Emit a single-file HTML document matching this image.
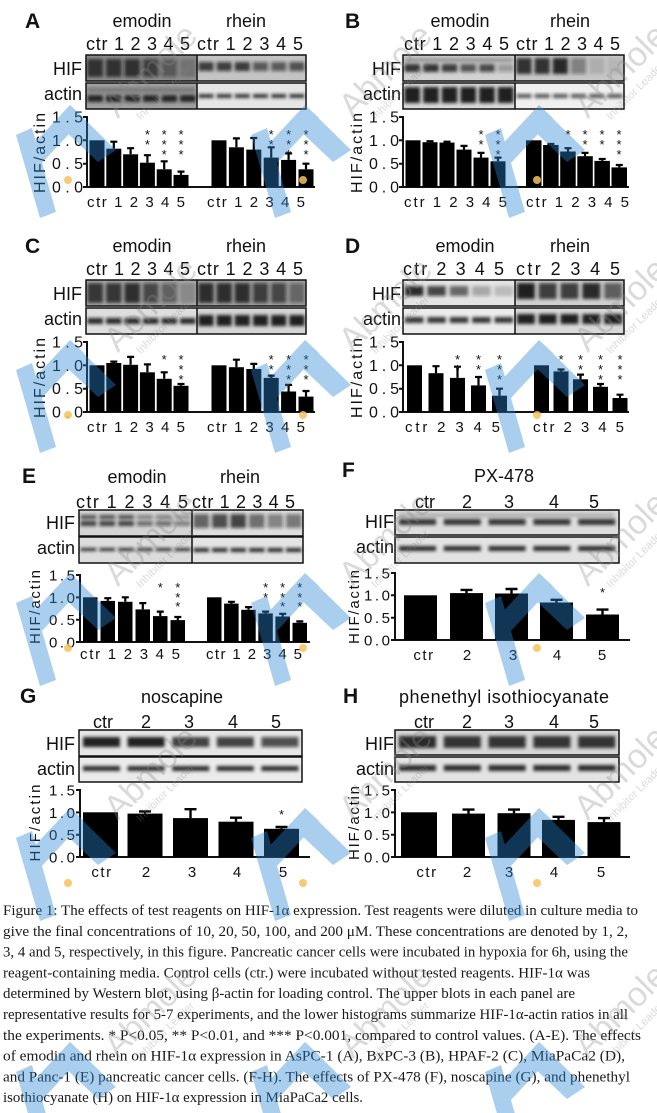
<!DOCTYPE html>
<html><head><meta charset="utf-8">
<style>
html,body{margin:0;padding:0;background:#fff;}
svg{display:block;}
text{font-family:"Liberation Sans",Arial,sans-serif;fill:#111;}
.cap{font-family:"Liberation Serif","Times New Roman",serif;font-size:15px;fill:#1a1a1a;}
.L{font-weight:bold;font-size:21px;}
.t{font-size:18px;}
.tk{font-size:16px;}
.tk2{font-size:15px;}
.st{font-size:13px;}
.wm text{fill:#8a8a8a;}
</style></head><body>
<svg width="657" height="1113" viewBox="0 0 657 1113" xmlns="http://www.w3.org/2000/svg">
<defs>
<filter id="bl" x="-20%" y="-60%" width="140%" height="220%"><feGaussianBlur stdDeviation="1.5"/></filter>
<g id="logo">
<polygon points="-52,-45 -36,-52 -12,32 -28,38"/>
<polygon points="-42,-28 2,-75 16,-62 -28,-15"/>
<polygon points="2,-75 48,-30 30,-18 -6,-52"/>
</g>
</defs>
<rect width="657" height="1113" fill="#fff"/>

<!-- ================= PANEL A ================= -->
<text class="L" x="25" y="28">A</text>
<text class="t" x="142" y="27" text-anchor="middle">emodin</text>
<text class="t" x="246" y="27" text-anchor="middle">rhein</text>
<text class="t" x="86" y="50" textLength="104">ctr 1 2 3 4 5</text>
<text class="t" x="197" y="50" textLength="106">ctr 1 2 3 4 5</text>
<text class="t" x="82" y="75" text-anchor="end">HIF</text>
<text class="t" x="82" y="100" text-anchor="end">actin</text>
<rect x="86" y="55" width="111" height="26" fill="#8e8e8e"/>
<rect x="197" y="55" width="109" height="26" fill="#c4c4c4"/>
<rect x="86" y="83" width="111" height="26" fill="#a0a0a0"/>
<rect x="197" y="83" width="109" height="26" fill="#e6e6e6"/>
<g filter="url(#bl)" fill="#151515">
<rect x="87.5" y="59" width="15.5" height="18" opacity=".8"/><rect x="106" y="59" width="15.5" height="18" opacity=".8"/><rect x="124.5" y="59" width="15.5" height="18" opacity=".75"/><rect x="143" y="59" width="15.5" height="18" opacity=".65"/><rect x="161.5" y="59" width="15.5" height="18" opacity=".45"/><rect x="180" y="59" width="15.5" height="18" opacity=".2"/>
<rect x="198.5" y="62" width="15" height="9" opacity=".75"/><rect x="216.7" y="62" width="15" height="9" opacity=".75"/><rect x="234.8" y="62" width="15" height="9" opacity=".8"/><rect x="253" y="62" width="15" height="9" opacity=".6"/><rect x="271.2" y="62" width="15" height="9" opacity=".6"/><rect x="289.4" y="62" width="15" height="9" opacity=".65"/>
<rect x="87.5" y="95" width="15.5" height="7" opacity=".9"/><rect x="106" y="95" width="15.5" height="7" opacity=".9"/><rect x="124.5" y="95" width="15.5" height="7" opacity=".9"/><rect x="143" y="95" width="15.5" height="7" opacity=".9"/><rect x="161.5" y="95" width="15.5" height="7" opacity=".9"/><rect x="180" y="95" width="15.5" height="7" opacity=".9"/>
<rect x="87.5" y="88" width="108" height="4" opacity=".35"/>
<rect x="198.5" y="94" width="15" height="4" opacity=".85"/><rect x="216.7" y="94" width="15" height="4" opacity=".85"/><rect x="234.8" y="94" width="15" height="4" opacity=".85"/><rect x="253" y="94" width="15" height="4" opacity=".85"/><rect x="271.2" y="94" width="15" height="4" opacity=".85"/><rect x="289.4" y="94" width="15" height="4" opacity=".85"/>
</g>
<g fill="none" stroke="#111" stroke-width="1.5">
<rect x="86" y="55" width="220" height="26"/><line x1="197" y1="55" x2="197" y2="81"/>
<rect x="86" y="83" width="220" height="26"/><line x1="197" y1="83" x2="197" y2="109"/>
</g>
<text class="tk" transform="translate(45,153) rotate(-90)" text-anchor="middle" textLength="80">HIF/actin</text>
<text class="tk" x="83" y="122.5" text-anchor="end" textLength="31">1.5</text>
<text class="tk" x="83" y="145.8" text-anchor="end" textLength="31">1.0</text>
<text class="tk" x="83" y="169.2" text-anchor="end" textLength="31">0.5</text>
<text class="tk" x="83" y="192.5" text-anchor="end" textLength="31">0.0</text>
<path d="M87 116V187H315M83 117H87M83 140.3H87M83 163.7H87M83 187H87" fill="none" stroke="#111" stroke-width="2"/>
<g fill="#000">
<rect x="89.5" y="140.3" width="15" height="46.7"/><rect x="106.3" y="148.7" width="15" height="38.3"/><rect x="123.1" y="154.3" width="15" height="32.7"/><rect x="139.9" y="162.7" width="15" height="24.3"/><rect x="156.7" y="169.3" width="15" height="17.7"/><rect x="173.5" y="174.9" width="15" height="12.1"/>
<rect x="211.5" y="140.3" width="15" height="46.7"/><rect x="228.9" y="147.3" width="15" height="39.7"/><rect x="246.3" y="149.6" width="15" height="37.4"/><rect x="263.7" y="157.6" width="15" height="29.4"/><rect x="281.1" y="159.9" width="15" height="27.1"/><rect x="298.5" y="169.3" width="15" height="17.7"/>
</g>
<path d="M113.8 148.7V141.7M110.3 141.7H117.3M130.6 154.3V148.2M127.1 148.2H134.1M147.4 162.7V155.2M143.9 155.2H150.9M164.2 169.3V161.3M160.7 161.3H167.7M181 174.9V171.6M177.5 171.6H184.5M236.4 147.3V138.4M232.9 138.4H239.9M253.8 149.6V138M250.3 138H257.3M271.2 157.6V147.3M267.7 147.3H274.7M288.6 159.9V153.4M285.1 153.4H292.1M306 169.3V163.7M302.5 163.7H309.5" fill="none" stroke="#000" stroke-width="2.2"/>
<g class="st" text-anchor="middle">
<text x="147.4" y="139">*</text><text x="147.4" y="149">*</text>
<text x="164.2" y="139">*</text><text x="164.2" y="149">*</text><text x="164.2" y="159">*</text>
<text x="181" y="139">*</text><text x="181" y="149">*</text><text x="181" y="159">*</text>
<text x="271.2" y="139">*</text><text x="271.2" y="149">*</text>
<text x="288.6" y="139">*</text><text x="288.6" y="149">*</text><text x="288.6" y="159">*</text>
<text x="306" y="139">*</text><text x="306" y="149">*</text><text x="306" y="159">*</text>
</g>
<text class="tk2" x="87" y="207" textLength="98">ctr 1 2 3 4 5</text>
<text class="tk2" x="207" y="207" textLength="98">ctr 1 2 3 4 5</text>

<!-- ================= PANEL B ================= -->
<text class="L" x="345" y="28">B</text>
<text class="t" x="460" y="27" text-anchor="middle">emodin</text>
<text class="t" x="570" y="27" text-anchor="middle">rhein</text>
<text class="t" x="404" y="50" textLength="105">ctr 1 2 3 4 5</text>
<text class="t" x="516" y="50" textLength="104">ctr 1 2 3 4 5</text>
<text class="t" x="401" y="75" text-anchor="end">HIF</text>
<text class="t" x="401" y="100" text-anchor="end">actin</text>
<rect x="403" y="55" width="112" height="26" fill="#d2d2d2"/>
<rect x="515" y="55" width="109" height="26" fill="#c6c6c6"/>
<rect x="403" y="83" width="112" height="26" fill="#d8d8d8"/>
<rect x="515" y="83" width="109" height="26" fill="#f0f0f0"/>
<g filter="url(#bl)" fill="#151515">
<rect x="404.5" y="58" width="108" height="4" opacity=".35"/>
<rect x="404.5" y="64" width="15.5" height="8" opacity=".85"/><rect x="423.2" y="64" width="15.5" height="8" opacity=".85"/><rect x="441.8" y="64" width="15.5" height="8" opacity=".8"/><rect x="460.5" y="64" width="15.5" height="8" opacity=".65"/><rect x="479.2" y="64" width="15.5" height="8" opacity=".7"/><rect x="497.8" y="64" width="15.5" height="8" opacity=".3"/>
<rect x="516.5" y="58" width="15" height="16" opacity=".85"/><rect x="534.7" y="58" width="15" height="16" opacity=".85"/><rect x="552.8" y="58" width="15" height="16" opacity=".9"/><rect x="571" y="58" width="15" height="16" opacity=".4"/><rect x="589.2" y="58" width="15" height="16" opacity=".12"/><rect x="607.4" y="58" width="15" height="16" opacity=".08"/>
<rect x="404.5" y="87" width="15.5" height="16" opacity=".95"/><rect x="423.2" y="87" width="15.5" height="16" opacity=".95"/><rect x="441.8" y="87" width="15.5" height="16" opacity=".95"/><rect x="460.5" y="87" width="15.5" height="16" opacity=".95"/><rect x="479.2" y="87" width="15.5" height="16" opacity=".95"/><rect x="497.8" y="87" width="15.5" height="16" opacity=".95"/>
<rect x="516.5" y="94" width="15" height="4" opacity=".7"/><rect x="534.7" y="94" width="15" height="4" opacity=".7"/><rect x="552.8" y="94" width="15" height="4" opacity=".7"/><rect x="571" y="94" width="15" height="4" opacity=".7"/><rect x="589.2" y="94" width="15" height="4" opacity=".7"/><rect x="607.4" y="94" width="15" height="4" opacity=".7"/>
</g>
<g fill="none" stroke="#111" stroke-width="1.5">
<rect x="403" y="55" width="221" height="26"/><line x1="515" y1="55" x2="515" y2="81"/>
<rect x="403" y="83" width="221" height="26"/><line x1="515" y1="83" x2="515" y2="109"/>
</g>
<text class="tk" transform="translate(362,153) rotate(-90)" text-anchor="middle" textLength="80">HIF/actin</text>
<text class="tk" x="399" y="122.5" text-anchor="end" textLength="30">1.5</text>
<text class="tk" x="399" y="145.8" text-anchor="end" textLength="30">1.0</text>
<text class="tk" x="399" y="169.2" text-anchor="end" textLength="30">0.5</text>
<text class="tk" x="399" y="192.5" text-anchor="end" textLength="30">0.0</text>
<path d="M403 116V187H629M399 117H403M399 140.3H403M399 163.7H403M399 187H403" fill="none" stroke="#111" stroke-width="2"/>
<g fill="#000">
<rect x="405.5" y="140.3" width="15" height="46.7"/><rect x="422.5" y="142.2" width="15" height="44.8"/><rect x="439.5" y="142.6" width="15" height="44.4"/><rect x="456.5" y="149.6" width="15" height="37.4"/><rect x="473.5" y="157.6" width="15" height="29.4"/><rect x="490.5" y="161.3" width="15" height="25.7"/>
<rect x="526" y="140.3" width="15.5" height="46.7"/><rect x="543.1" y="145" width="15.5" height="42"/><rect x="560.2" y="151.5" width="15.5" height="35.5"/><rect x="577.3" y="156.2" width="15.5" height="30.8"/><rect x="594.4" y="160.9" width="15.5" height="26.1"/><rect x="611.5" y="167.4" width="15.5" height="19.6"/>
</g>
<path d="M430 142.2V141.2M426.5 141.2H433.5M447 142.6V141.7M443.5 141.7H450.5M464 149.6V145.9M460.5 145.9H467.5M481 157.6V152.9M477.5 152.9H484.5M498 161.3V157.6M494.5 157.6H501.5M550.9 145V144M547.4 144H554.4M568 151.5V148.2M564.5 148.2H571.5M585 156.2V152.9M581.5 152.9H588.5M602.2 160.9V159M598.7 159H605.7M619.3 167.4V165M615.8 165H622.8" fill="none" stroke="#000" stroke-width="2.2"/>
<g class="st" text-anchor="middle">
<text x="481" y="139">*</text><text x="481" y="149">*</text>
<text x="498" y="139">*</text><text x="498" y="149">*</text><text x="498" y="159">*</text>
<text x="568" y="139">*</text>
<text x="585" y="139">*</text><text x="585" y="149">*</text>
<text x="602" y="139">*</text><text x="602" y="149">*</text>
<text x="619" y="139">*</text><text x="619" y="149">*</text><text x="619" y="159">*</text>
</g>
<text class="tk2" x="404" y="207" textLength="103">ctr 1 2 3 4 5</text>
<text class="tk2" x="526" y="207" textLength="103">ctr 1 2 3 4 5</text>

<!-- ================= PANEL C ================= -->
<text class="L" x="25" y="253">C</text>
<text class="t" x="142" y="252" text-anchor="middle">emodin</text>
<text class="t" x="246" y="252" text-anchor="middle">rhein</text>
<text class="t" x="86" y="275" textLength="104">ctr 1 2 3 4 5</text>
<text class="t" x="197" y="275" textLength="106">ctr 1 2 3 4 5</text>
<text class="t" x="82" y="300" text-anchor="end">HIF</text>
<text class="t" x="82" y="325" text-anchor="end">actin</text>
<rect x="86" y="280" width="111" height="26" fill="#ababab"/>
<rect x="197" y="280" width="109" height="26" fill="#a6a6a6"/>
<rect x="86" y="308" width="111" height="26" fill="#dedede"/>
<rect x="197" y="308" width="109" height="26" fill="#d4d4d4"/>
<g filter="url(#bl)" fill="#151515">
<rect x="87.5" y="283" width="15.5" height="20" opacity=".8"/><rect x="106" y="283" width="15.5" height="20" opacity=".8"/><rect x="124.5" y="283" width="15.5" height="20" opacity=".85"/><rect x="143" y="283" width="15.5" height="20" opacity=".65"/><rect x="161.5" y="283" width="15.5" height="20" opacity=".5"/><rect x="180" y="283" width="15.5" height="20" opacity=".2"/>
<rect x="198.5" y="283" width="15" height="20" opacity=".85"/><rect x="216.7" y="283" width="15" height="20" opacity=".85"/><rect x="234.8" y="283" width="15" height="20" opacity=".85"/><rect x="253" y="283" width="15" height="20" opacity=".7"/><rect x="271.2" y="283" width="15" height="20" opacity=".65"/><rect x="289.4" y="283" width="15" height="20" opacity=".45"/>
<rect x="87.5" y="318" width="15.5" height="6" opacity=".9"/><rect x="106" y="318" width="15.5" height="6" opacity=".9"/><rect x="124.5" y="318" width="15.5" height="6" opacity=".9"/><rect x="143" y="318" width="15.5" height="6" opacity=".9"/><rect x="161.5" y="318" width="15.5" height="6" opacity=".9"/><rect x="180" y="318" width="15.5" height="6" opacity=".9"/>
<rect x="198.5" y="315" width="15" height="11" opacity=".95"/><rect x="216.7" y="315" width="15" height="11" opacity=".95"/><rect x="234.8" y="315" width="15" height="11" opacity=".95"/><rect x="253" y="315" width="15" height="11" opacity=".95"/><rect x="271.2" y="315" width="15" height="11" opacity=".95"/><rect x="289.4" y="315" width="15" height="11" opacity=".95"/>
</g>
<g fill="none" stroke="#111" stroke-width="1.5">
<rect x="86" y="280" width="220" height="26"/><line x1="197" y1="280" x2="197" y2="306"/>
<rect x="86" y="308" width="220" height="26"/><line x1="197" y1="308" x2="197" y2="334"/>
</g>
<text class="tk" transform="translate(45,378) rotate(-90)" text-anchor="middle" textLength="80">HIF/actin</text>
<text class="tk" x="83" y="347.5" text-anchor="end" textLength="31">1.5</text>
<text class="tk" x="83" y="370.8" text-anchor="end" textLength="31">1.0</text>
<text class="tk" x="83" y="394.2" text-anchor="end" textLength="31">0.5</text>
<text class="tk" x="83" y="417.5" text-anchor="end" textLength="31">0.0</text>
<path d="M87 341V412H315M83 342H87M83 365.3H87M83 388.7H87M83 412H87" fill="none" stroke="#111" stroke-width="2"/>
<g fill="#000">
<rect x="89.5" y="365.3" width="15" height="46.7"/><rect x="106.3" y="363" width="15" height="49"/><rect x="123.1" y="364.8" width="15" height="47.2"/><rect x="139.9" y="372.3" width="15" height="39.7"/><rect x="156.7" y="378.8" width="15" height="33.2"/><rect x="173.5" y="385.8" width="15" height="26.2"/>
<rect x="211.5" y="365.3" width="15" height="46.7"/><rect x="228.9" y="367.2" width="15" height="44.8"/><rect x="246.3" y="369" width="15" height="43"/><rect x="263.7" y="377.9" width="15" height="34.1"/><rect x="281.1" y="391.5" width="15" height="20.5"/><rect x="298.5" y="396.6" width="15" height="15.4"/>
</g>
<path d="M113.8 363V361.6M110.3 361.6H117.3M130.6 364.8V356.9M127.1 356.9H134.1M147.4 372.3V364.4M143.9 364.4H150.9M164.2 378.8V372.3M160.7 372.3H167.7M181 385.8V384M177.5 384H184.5M236.4 367.2V359.7M232.9 359.7H239.9M253.8 369V363.9M250.3 363.9H257.3M271.2 377.9V375.6M267.7 375.6H274.7M288.6 391.5V384.9M285.1 384.9H292.1M306 396.6V391M302.5 391H309.5" fill="none" stroke="#000" stroke-width="2.2"/>
<g class="st" text-anchor="middle">
<text x="164.2" y="364">*</text>
<text x="181" y="364">*</text><text x="181" y="374">*</text><text x="181" y="384">*</text>
<text x="271.2" y="364">*</text><text x="271.2" y="374">*</text><text x="271.2" y="384">*</text>
<text x="288.6" y="364">*</text><text x="288.6" y="374">*</text><text x="288.6" y="384">*</text>
<text x="306" y="364">*</text><text x="306" y="374">*</text><text x="306" y="384">*</text>
</g>
<text class="tk2" x="87" y="432" textLength="98">ctr 1 2 3 4 5</text>
<text class="tk2" x="207" y="432" textLength="98">ctr 1 2 3 4 5</text>

<!-- ================= PANEL D ================= -->
<text class="L" x="345" y="253">D</text>
<text class="t" x="465" y="252" text-anchor="middle">emodin</text>
<text class="t" x="570" y="252" text-anchor="middle">rhein</text>
<text class="t" x="403" y="275" textLength="101">ctr 2 3 4 5</text>
<text class="t" x="516" y="275" textLength="104">ctr 2 3 4 5</text>
<text class="t" x="401" y="300" text-anchor="end">HIF</text>
<text class="t" x="401" y="325" text-anchor="end">actin</text>
<rect x="403" y="280" width="112" height="26" fill="#e4e4e4"/>
<rect x="515" y="280" width="109" height="26" fill="#cfcfcf"/>
<rect x="403" y="308" width="112" height="26" fill="#ececec"/>
<rect x="515" y="308" width="109" height="26" fill="#d8d8d8"/>
<g filter="url(#bl)" fill="#151515">
<rect x="405" y="286" width="18.4" height="10" opacity=".9"/><rect x="427.4" y="286" width="18.4" height="10" opacity=".75"/><rect x="449.8" y="286" width="18.4" height="10" opacity=".6"/><rect x="472.2" y="286" width="18.4" height="10" opacity=".3"/><rect x="494.6" y="286" width="18.4" height="10" opacity=".18"/>
<rect x="517" y="283" width="17.8" height="16" opacity=".95"/><rect x="538.8" y="283" width="17.8" height="16" opacity=".8"/><rect x="560.6" y="283" width="17.8" height="16" opacity=".8"/><rect x="582.4" y="283" width="17.8" height="16" opacity=".9"/><rect x="604.2" y="283" width="17.8" height="16" opacity=".6"/>
<rect x="405" y="317" width="18.4" height="6" opacity=".85"/><rect x="427.4" y="317" width="18.4" height="6" opacity=".85"/><rect x="449.8" y="317" width="18.4" height="6" opacity=".85"/><rect x="472.2" y="317" width="18.4" height="6" opacity=".85"/><rect x="494.6" y="317" width="18.4" height="6" opacity=".85"/>
<rect x="517" y="314" width="17.8" height="10" opacity=".95"/><rect x="538.8" y="314" width="17.8" height="10" opacity=".95"/><rect x="560.6" y="314" width="17.8" height="10" opacity=".95"/><rect x="582.4" y="314" width="17.8" height="10" opacity=".95"/><rect x="604.2" y="314" width="17.8" height="10" opacity=".95"/>
</g>
<g fill="none" stroke="#111" stroke-width="1.5">
<rect x="403" y="280" width="221" height="26"/><line x1="515" y1="280" x2="515" y2="306"/>
<rect x="403" y="308" width="221" height="26"/><line x1="515" y1="308" x2="515" y2="334"/>
</g>
<text class="tk" transform="translate(362,378) rotate(-90)" text-anchor="middle" textLength="80">HIF/actin</text>
<text class="tk" x="399" y="347.5" text-anchor="end" textLength="30">1.5</text>
<text class="tk" x="399" y="370.8" text-anchor="end" textLength="30">1.0</text>
<text class="tk" x="399" y="394.2" text-anchor="end" textLength="30">0.5</text>
<text class="tk" x="399" y="417.5" text-anchor="end" textLength="30">0.0</text>
<path d="M403 341V412H629M399 342H403M399 365.3H403M399 388.7H403M399 412H403" fill="none" stroke="#111" stroke-width="2"/>
<g fill="#000">
<rect x="407" y="365.3" width="15" height="46.7"/><rect x="428.5" y="373.2" width="15" height="38.8"/><rect x="450" y="377.9" width="15" height="34.1"/><rect x="471" y="385.4" width="15" height="26.6"/><rect x="492" y="395.7" width="15" height="16.3"/>
<rect x="534" y="365.3" width="15" height="46.7"/><rect x="553.5" y="371.4" width="15" height="40.6"/><rect x="573" y="379.3" width="15" height="32.7"/><rect x="593" y="386.8" width="15" height="25.2"/><rect x="612.5" y="398" width="15" height="14"/>
</g>
<path d="M436 373.2V366.2M432.5 366.2H439.5M457.5 377.9V366.7M454 366.7H461M478.5 385.4V377M475 377H482M499.5 395.7V388.7M496 388.7H503M561 371.4V369.5M557.5 369.5H564.5M580.5 379.3V374.6M577 374.6H584M600.5 386.8V384M597 384H604M620 398V394.7M616.5 394.7H623.5" fill="none" stroke="#000" stroke-width="2.2"/>
<g class="st" text-anchor="middle">
<text x="457.5" y="364">*</text><text x="457.5" y="374">*</text>
<text x="478.5" y="364">*</text><text x="478.5" y="374">*</text>
<text x="499.5" y="364">*</text><text x="499.5" y="374">*</text><text x="499.5" y="384">*</text>
<text x="561" y="364">*</text>
<text x="580.5" y="364">*</text><text x="580.5" y="374">*</text>
<text x="600.5" y="364">*</text><text x="600.5" y="374">*</text><text x="600.5" y="384">*</text>
<text x="620" y="364">*</text><text x="620" y="374">*</text><text x="620" y="384">*</text>
</g>
<text class="tk2" x="405" y="432" textLength="95">ctr 2 3 4 5</text>
<text class="tk2" x="533" y="432" textLength="91">ctr 2 3 4 5</text>

<!-- ================= PANEL E ================= -->
<text class="L" x="22" y="483">E</text>
<text class="t" x="137" y="483" text-anchor="middle">emodin</text>
<text class="t" x="240" y="483" text-anchor="middle">rhein</text>
<text class="t" x="76" y="508" textLength="112">ctr 1 2 3 4 5</text>
<text class="t" x="192" y="508" textLength="103">ctr 1 2 3 4 5</text>
<text class="t" x="75" y="529" text-anchor="end">HIF</text>
<text class="t" x="75" y="554" text-anchor="end">actin</text>
<rect x="79" y="510" width="113" height="26" fill="#d4d4d4"/>
<rect x="192" y="510" width="111" height="26" fill="#dedede"/>
<rect x="79" y="537" width="113" height="26" fill="#dcdcdc"/>
<rect x="192" y="537" width="111" height="26" fill="#e4e4e4"/>
<g filter="url(#bl)" fill="#151515">
<rect x="80.5" y="515" width="15.8" height="4" opacity=".7"/><rect x="99.3" y="515" width="15.8" height="4" opacity=".7"/><rect x="118.2" y="515" width="15.8" height="4" opacity=".7"/><rect x="137" y="515" width="15.8" height="4" opacity=".45"/><rect x="155.8" y="515" width="15.8" height="4" opacity=".45"/><rect x="174.7" y="515" width="15.8" height="4" opacity=".35"/>
<rect x="80.5" y="521" width="15.8" height="5" opacity=".8"/><rect x="99.3" y="521" width="15.8" height="5" opacity=".8"/><rect x="118.2" y="521" width="15.8" height="5" opacity=".8"/><rect x="137" y="521" width="15.8" height="5" opacity=".55"/><rect x="155.8" y="521" width="15.8" height="5" opacity=".55"/><rect x="174.7" y="521" width="15.8" height="5" opacity=".45"/>
<rect x="193.5" y="514" width="15.5" height="14" opacity=".6"/><rect x="212" y="514" width="15.5" height="14" opacity=".7"/><rect x="230.5" y="514" width="15.5" height="14" opacity=".75"/><rect x="249" y="514" width="15.5" height="14" opacity=".55"/><rect x="267.5" y="514" width="15.5" height="14" opacity=".45"/><rect x="286" y="514" width="15.5" height="14" opacity=".5"/>
<rect x="80.5" y="548" width="15.8" height="3" opacity=".9"/><rect x="99.3" y="548" width="15.8" height="3" opacity=".9"/><rect x="118.2" y="548" width="15.8" height="3" opacity=".9"/><rect x="137" y="548" width="15.8" height="3" opacity=".9"/><rect x="155.8" y="548" width="15.8" height="3" opacity=".9"/><rect x="174.7" y="548" width="15.8" height="3" opacity=".9"/>
<rect x="193.5" y="548" width="15.5" height="4" opacity=".9"/><rect x="212" y="548" width="15.5" height="4" opacity=".9"/><rect x="230.5" y="548" width="15.5" height="4" opacity=".9"/><rect x="249" y="548" width="15.5" height="4" opacity=".9"/><rect x="267.5" y="548" width="15.5" height="4" opacity=".9"/><rect x="286" y="548" width="15.5" height="4" opacity=".9"/>
</g>
<g fill="none" stroke="#111" stroke-width="1.5">
<rect x="79" y="510" width="224" height="26"/><line x1="192" y1="510" x2="192" y2="536"/>
<rect x="79" y="537" width="224" height="26"/><line x1="192" y1="537" x2="192" y2="563"/>
</g>
<text class="tk2" transform="translate(40,607) rotate(-90)" text-anchor="middle" textLength="74">HIF/actin</text>
<text class="tk2" x="75" y="580.4" text-anchor="end" textLength="26">1.5</text>
<text class="tk2" x="75" y="602.8" text-anchor="end" textLength="26">1.0</text>
<text class="tk2" x="75" y="625.1" text-anchor="end" textLength="26">0.5</text>
<text class="tk2" x="75" y="647.4" text-anchor="end" textLength="26">0.0</text>
<path d="M80 574V642H310M76 575H80M76 597.4H80M76 619.7H80M76 642H80" fill="none" stroke="#111" stroke-width="2"/>
<g fill="#000">
<rect x="83" y="597.3" width="14.5" height="44.7"/><rect x="100.5" y="600.9" width="14.5" height="41.1"/><rect x="118" y="601.8" width="14.5" height="40.2"/><rect x="135.5" y="609.4" width="14.5" height="32.6"/><rect x="153" y="616.1" width="14.5" height="25.9"/><rect x="170.5" y="620.1" width="14.5" height="21.9"/>
<rect x="207" y="597.3" width="14.5" height="44.7"/><rect x="224.1" y="603.6" width="14.5" height="38.4"/><rect x="241.2" y="609.8" width="14.5" height="32.2"/><rect x="258.3" y="613.4" width="14.5" height="28.6"/><rect x="275.4" y="616.5" width="14.5" height="25.5"/><rect x="292.5" y="622.8" width="14.5" height="19.2"/>
</g>
<path d="M107.8 600.9V598.2M104.3 598.2H111.3M125.3 601.8V597.3M121.8 597.3H128.8M142.8 609.4V603.1M139.3 603.1H146.3M160.3 616.1V611.6M156.8 611.6H163.8M177.8 620.1V617M174.3 617H181.3M231.4 603.6V601.8M227.9 601.8H234.9M248.5 609.8V607.1M245 607.1H252M265.6 613.4V611.6M262.1 611.6H269.1M282.7 616.5V613.8M279.2 613.8H286.2M299.8 622.8V621.4M296.3 621.4H303.3" fill="none" stroke="#000" stroke-width="2.2"/>
<g class="st" text-anchor="middle">
<text x="160.3" y="592">*</text>
<text x="177.8" y="592">*</text><text x="177.8" y="602">*</text><text x="177.8" y="611">*</text>
<text x="265.6" y="592">*</text><text x="265.6" y="602">*</text>
<text x="282.7" y="592">*</text><text x="282.7" y="602">*</text><text x="282.7" y="611">*</text>
<text x="299.8" y="592">*</text><text x="299.8" y="602">*</text><text x="299.8" y="611">*</text>
</g>
<text class="tk2" x="80" y="659" textLength="100">ctr 1 2 3 4 5</text>
<text class="tk2" x="206" y="659" textLength="96">ctr 1 2 3 4 5</text>

<!-- ================= PANEL F ================= -->
<text class="L" x="342" y="477">F</text>
<text class="t" x="504" y="482" text-anchor="middle">PX-478</text>
<g class="t" text-anchor="middle"><text x="425" y="508">ctr</text><text x="467" y="508">2</text><text x="509" y="508">3</text><text x="554" y="508">4</text><text x="594" y="508">5</text></g>
<text class="t" x="394" y="528" text-anchor="end">HIF</text>
<text class="t" x="394" y="553" text-anchor="end">actin</text>
<rect x="395" y="510" width="224" height="25" fill="#dddddd"/>
<rect x="395" y="537" width="224" height="26" fill="#e3e3e3"/>
<g filter="url(#bl)" fill="#151515">
<rect x="399" y="513" width="215" height="4" opacity=".2"/>
<rect x="399" y="519" width="37" height="6" opacity=".85"/><rect x="443.8" y="519" width="37" height="6" opacity=".85"/><rect x="488.6" y="519" width="37" height="6" opacity=".85"/><rect x="533.4" y="519" width="37" height="6" opacity=".85"/><rect x="578.2" y="519" width="37" height="6" opacity=".85"/>
<rect x="399" y="546" width="37" height="5" opacity=".9"/><rect x="443.8" y="546" width="37" height="5" opacity=".9"/><rect x="488.6" y="546" width="37" height="5" opacity=".9"/><rect x="533.4" y="546" width="37" height="5" opacity=".9"/><rect x="578.2" y="546" width="37" height="5" opacity=".9"/>
</g>
<g fill="none" stroke="#111" stroke-width="1.5"><rect x="395" y="510" width="224" height="25"/><rect x="395" y="537" width="224" height="26"/></g>
<text class="tk2" transform="translate(359,607) rotate(-90)" text-anchor="middle" textLength="74">HIF/actin</text>
<text class="tk2" x="390" y="578.4" text-anchor="end" textLength="26">1.5</text>
<text class="tk2" x="390" y="600.7" text-anchor="end" textLength="26">1.0</text>
<text class="tk2" x="390" y="623.1" text-anchor="end" textLength="26">0.5</text>
<text class="tk2" x="390" y="645.4" text-anchor="end" textLength="26">0.0</text>
<path d="M395 572V640H630M391 573H395M391 595.3H395M391 617.7H395M391 640H395" fill="none" stroke="#111" stroke-width="2"/>
<g fill="#000">
<rect x="404" y="595.3" width="33" height="44.7"/><rect x="450" y="593.1" width="33" height="46.9"/><rect x="495" y="593.5" width="33" height="46.5"/><rect x="540" y="602.5" width="33" height="37.5"/><rect x="586" y="614.5" width="33" height="25.5"/>
</g>
<path d="M466.5 593.1V589.9M460.5 589.9H472.5M511.5 593.5V589M505.5 589H517.5M556.5 602.5V599.8M550.5 599.8H562.5M602.5 614.5V609.6M596.5 609.6H608.5" fill="none" stroke="#000" stroke-width="2.4"/>
<text class="st" x="602.5" y="597" text-anchor="middle">*</text>
<g class="tk2" text-anchor="middle"><text x="424" y="660" letter-spacing="1.5">ctr</text><text x="467" y="660">2</text><text x="513" y="660">3</text><text x="557" y="660">4</text><text x="602" y="660">5</text></g>

<!-- ================= PANEL G ================= -->
<text class="L" x="20" y="703">G</text>
<text class="t" x="182" y="703" text-anchor="middle">noscapine</text>
<g class="t" text-anchor="middle"><text x="103" y="728">ctr</text><text x="146" y="728">2</text><text x="189" y="728">3</text><text x="233" y="728">4</text><text x="276" y="728">5</text></g>
<text class="t" x="75" y="750" text-anchor="end">HIF</text>
<text class="t" x="75" y="775" text-anchor="end">actin</text>
<rect x="79" y="730" width="223" height="26" fill="#e6e6e6"/>
<rect x="79" y="757" width="223" height="25" fill="#ebebeb"/>
<g filter="url(#bl)" fill="#151515">
<rect x="83" y="737" width="37" height="10" opacity=".95"/><rect x="127.6" y="737" width="37" height="10" opacity=".95"/><rect x="172.2" y="737" width="37" height="10" opacity=".8"/><rect x="216.8" y="737" width="37" height="10" opacity=".8"/><rect x="261.4" y="737" width="37" height="10" opacity=".7"/>
<rect x="83" y="766" width="37" height="5" opacity=".9"/><rect x="127.6" y="766" width="37" height="5" opacity=".9"/><rect x="172.2" y="766" width="37" height="5" opacity=".9"/><rect x="216.8" y="766" width="37" height="5" opacity=".9"/><rect x="261.4" y="766" width="37" height="5" opacity=".9"/>
</g>
<g fill="none" stroke="#111" stroke-width="1.5"><rect x="79" y="730" width="223" height="26"/><rect x="79" y="757" width="223" height="25"/></g>
<text class="tk2" transform="translate(40,823) rotate(-90)" text-anchor="middle" textLength="77">HIF/actin</text>
<text class="tk2" x="75" y="795.4" text-anchor="end" textLength="26">1.5</text>
<text class="tk2" x="75" y="817.8" text-anchor="end" textLength="26">1.0</text>
<text class="tk2" x="75" y="840.1" text-anchor="end" textLength="26">0.5</text>
<text class="tk2" x="75" y="862.4" text-anchor="end" textLength="26">0.0</text>
<path d="M80 789V857H310M76 790H80M76 812.4H80M76 834.7H80M76 857H80" fill="none" stroke="#111" stroke-width="2"/>
<g fill="#000">
<rect x="83" y="812.3" width="35" height="44.7"/><rect x="127.5" y="813.6" width="35" height="43.4"/><rect x="173" y="818.1" width="35" height="38.9"/><rect x="218.5" y="821.7" width="35" height="35.3"/><rect x="264" y="828.8" width="35" height="28.2"/>
</g>
<path d="M145 813.6V811.4M139 811.4H151M190.5 818.1V809.2M184.5 809.2H196.5M236 821.7V817.7M230 817.7H242M281.5 828.8V827M275.5 827H287.5" fill="none" stroke="#000" stroke-width="2.4"/>
<text class="st" x="281.5" y="819" text-anchor="middle">*</text>
<g class="tk2" text-anchor="middle"><text x="102" y="877" letter-spacing="1.5">ctr</text><text x="146" y="877">2</text><text x="192" y="877">3</text><text x="237" y="877">4</text><text x="283" y="877">5</text></g>

<!-- ================= PANEL H ================= -->
<text class="L" x="343" y="703">H</text>
<text class="t" x="504" y="703" text-anchor="middle" textLength="210">phenethyl isothiocyanate</text>
<g class="t" text-anchor="middle"><text x="424" y="728">ctr</text><text x="467" y="728">2</text><text x="509" y="728">3</text><text x="554" y="728">4</text><text x="594" y="728">5</text></g>
<text class="t" x="394" y="750" text-anchor="end">HIF</text>
<text class="t" x="394" y="775" text-anchor="end">actin</text>
<rect x="395" y="730" width="224" height="25" fill="#d6d6d6"/>
<rect x="395" y="757" width="224" height="25" fill="#e3e3e3"/>
<g filter="url(#bl)" fill="#151515">
<rect x="399" y="736" width="37" height="12" opacity=".9"/><rect x="443.8" y="736" width="37" height="12" opacity=".85"/><rect x="488.6" y="736" width="37" height="12" opacity=".85"/><rect x="533.4" y="736" width="37" height="12" opacity=".85"/><rect x="578.2" y="736" width="37" height="12" opacity=".85"/>
<rect x="399" y="765" width="37" height="6" opacity=".9"/><rect x="443.8" y="765" width="37" height="6" opacity=".9"/><rect x="488.6" y="765" width="37" height="6" opacity=".9"/><rect x="533.4" y="765" width="37" height="6" opacity=".9"/><rect x="578.2" y="765" width="37" height="6" opacity=".9"/>
</g>
<g fill="none" stroke="#111" stroke-width="1.5"><rect x="395" y="730" width="224" height="25"/><rect x="395" y="757" width="224" height="25"/></g>
<text class="tk2" transform="translate(359,823) rotate(-90)" text-anchor="middle" textLength="74">HIF/actin</text>
<text class="tk2" x="390" y="795.4" text-anchor="end" textLength="26">1.5</text>
<text class="tk2" x="390" y="817.8" text-anchor="end" textLength="26">1.0</text>
<text class="tk2" x="390" y="840.1" text-anchor="end" textLength="26">0.5</text>
<text class="tk2" x="390" y="862.4" text-anchor="end" textLength="26">0.0</text>
<path d="M395 789V857H630M391 790H395M391 812.4H395M391 834.7H395M391 857H395" fill="none" stroke="#111" stroke-width="2"/>
<g fill="#000">
<rect x="401" y="812.3" width="36" height="44.7"/><rect x="452" y="813.6" width="33" height="43.4"/><rect x="497.5" y="813.2" width="33" height="43.8"/><rect x="542" y="819.9" width="33" height="37.1"/><rect x="587.5" y="822.1" width="33" height="34.9"/>
</g>
<path d="M468.5 813.6V809.6M462.5 809.6H474.5M514 813.2V809.6M508 809.6H520M558.5 819.9V816.8M552.5 816.8H564.5M604 822.1V818.1M598 818.1H610" fill="none" stroke="#000" stroke-width="2.4"/>
<g class="tk2" text-anchor="middle"><text x="427" y="877" letter-spacing="1.5">ctr</text><text x="467" y="877">2</text><text x="509" y="877">3</text><text x="554" y="877">4</text><text x="601" y="877">5</text></g>

<!-- ================= CAPTION ================= -->
<text class="cap" x="3" y="915" textLength="635" lengthAdjust="spacingAndGlyphs">Figure 1: The effects of test reagents on HIF-1α expression. Test reagents were diluted in culture media to</text>
<text class="cap" x="3" y="935.8" textLength="625" lengthAdjust="spacingAndGlyphs">give the final concentrations of 10, 20, 50, 100, and 200 μM. These concentrations are denoted by 1, 2,</text>
<text class="cap" x="3" y="956.6" textLength="625" lengthAdjust="spacingAndGlyphs">3, 4 and 5, respectively, in this figure. Pancreatic cancer cells were incubated in hypoxia for 6h, using the</text>
<text class="cap" x="3" y="977.4" textLength="587" lengthAdjust="spacingAndGlyphs">reagent-containing media. Control cells (ctr.) were incubated without tested reagents. HIF-1α was</text>
<text class="cap" x="3" y="998.2" textLength="572" lengthAdjust="spacingAndGlyphs">determined by Western blot, using β-actin for loading control. The upper blots in each panel are</text>
<text class="cap" x="3" y="1019" textLength="625" lengthAdjust="spacingAndGlyphs">representative results for 5-7 experiments, and the lower histograms summarize HIF-1α-actin ratios in all</text>
<text class="cap" x="3" y="1039.8" textLength="638" lengthAdjust="spacingAndGlyphs">the experiments. * P&lt;0.05, ** P&lt;0.01, and *** P&lt;0.001, compared to control values. (A-E). The effects</text>
<text class="cap" x="3" y="1060.6" textLength="622" lengthAdjust="spacingAndGlyphs">of emodin and rhein on HIF-1α expression in AsPC-1 (A), BxPC-3 (B), HPAF-2 (C), MiaPaCa2 (D),</text>
<text class="cap" x="3" y="1081.4" textLength="627" lengthAdjust="spacingAndGlyphs">and Panc-1 (E) pancreatic cancer cells. (F-H). The effects of PX-478 (F), noscapine (G), and phenethyl</text>
<text class="cap" x="3" y="1102.2" textLength="360" lengthAdjust="spacingAndGlyphs">isothiocyanate (H) on HIF-1α expression in MiaPaCa2 cells.</text>

<!-- ================= WATERMARKS ================= -->
<g class="wm" opacity="0.32">
<g transform="translate(150,70) rotate(-45)"><text y="12" text-anchor="middle" font-size="34">Abmole</text><text x="-4" y="29" text-anchor="middle" font-size="11">Inhibitor Leader</text></g>
<g transform="translate(385,70) rotate(-45)"><text y="12" text-anchor="middle" font-size="34">Abmole</text><text x="-4" y="29" text-anchor="middle" font-size="11">Inhibitor Leader</text></g>
<g transform="translate(620,70) rotate(-45)"><text y="12" text-anchor="middle" font-size="34">Abmole</text><text x="-4" y="29" text-anchor="middle" font-size="11">Inhibitor Leader</text></g>
<g transform="translate(150,304) rotate(-45)"><text y="12" text-anchor="middle" font-size="34">Abmole</text><text x="-4" y="29" text-anchor="middle" font-size="11">Inhibitor Leader</text></g>
<g transform="translate(385,304) rotate(-45)"><text y="12" text-anchor="middle" font-size="34">Abmole</text><text x="-4" y="29" text-anchor="middle" font-size="11">Inhibitor Leader</text></g>
<g transform="translate(620,304) rotate(-45)"><text y="12" text-anchor="middle" font-size="34">Abmole</text><text x="-4" y="29" text-anchor="middle" font-size="11">Inhibitor Leader</text></g>
<g transform="translate(150,538) rotate(-45)"><text y="12" text-anchor="middle" font-size="34">Abmole</text><text x="-4" y="29" text-anchor="middle" font-size="11">Inhibitor Leader</text></g>
<g transform="translate(385,538) rotate(-45)"><text y="12" text-anchor="middle" font-size="34">Abmole</text><text x="-4" y="29" text-anchor="middle" font-size="11">Inhibitor Leader</text></g>
<g transform="translate(620,538) rotate(-45)"><text y="12" text-anchor="middle" font-size="34">Abmole</text><text x="-4" y="29" text-anchor="middle" font-size="11">Inhibitor Leader</text></g>
<g transform="translate(150,772) rotate(-45)"><text y="12" text-anchor="middle" font-size="34">Abmole</text><text x="-4" y="29" text-anchor="middle" font-size="11">Inhibitor Leader</text></g>
<g transform="translate(385,772) rotate(-45)"><text y="12" text-anchor="middle" font-size="34">Abmole</text><text x="-4" y="29" text-anchor="middle" font-size="11">Inhibitor Leader</text></g>
<g transform="translate(620,772) rotate(-45)"><text y="12" text-anchor="middle" font-size="34">Abmole</text><text x="-4" y="29" text-anchor="middle" font-size="11">Inhibitor Leader</text></g>
<g transform="translate(150,1010) rotate(-45)"><text y="12" text-anchor="middle" font-size="34">Abmole</text><text x="-4" y="29" text-anchor="middle" font-size="11">Inhibitor Leader</text></g>
<g transform="translate(385,1010) rotate(-45)"><text y="12" text-anchor="middle" font-size="34">Abmole</text><text x="-4" y="29" text-anchor="middle" font-size="11">Inhibitor Leader</text></g>
<g transform="translate(620,1010) rotate(-45)"><text y="12" text-anchor="middle" font-size="34">Abmole</text><text x="-4" y="29" text-anchor="middle" font-size="11">Inhibitor Leader</text></g>
</g>
<g fill="#2a86d4" opacity="0.4">
<use href="#logo" x="68" y="180"/><use href="#logo" x="303" y="180"/><use href="#logo" x="537" y="180"/>
<use href="#logo" x="68" y="415"/><use href="#logo" x="303" y="415"/><use href="#logo" x="537" y="415"/>
<use href="#logo" x="68" y="648"/><use href="#logo" x="303" y="648"/><use href="#logo" x="537" y="648"/>
<use href="#logo" x="68" y="883"/><use href="#logo" x="303" y="883"/><use href="#logo" x="537" y="883"/>
<use href="#logo" x="68" y="1117"/><use href="#logo" x="303" y="1117"/><use href="#logo" x="537" y="1117"/>
</g>
<g fill="#f6c25a" opacity="0.85">
<circle cx="68" cy="180" r="4"/><circle cx="303" cy="180" r="4"/><circle cx="537" cy="180" r="4"/>
<circle cx="68" cy="415" r="4"/><circle cx="303" cy="415" r="4"/><circle cx="537" cy="415" r="4"/>
<circle cx="68" cy="648" r="4"/><circle cx="303" cy="648" r="4"/><circle cx="537" cy="648" r="4"/>
<circle cx="68" cy="883" r="4"/><circle cx="303" cy="883" r="4"/><circle cx="537" cy="883" r="4"/>
</g>
</svg>
</body></html>
